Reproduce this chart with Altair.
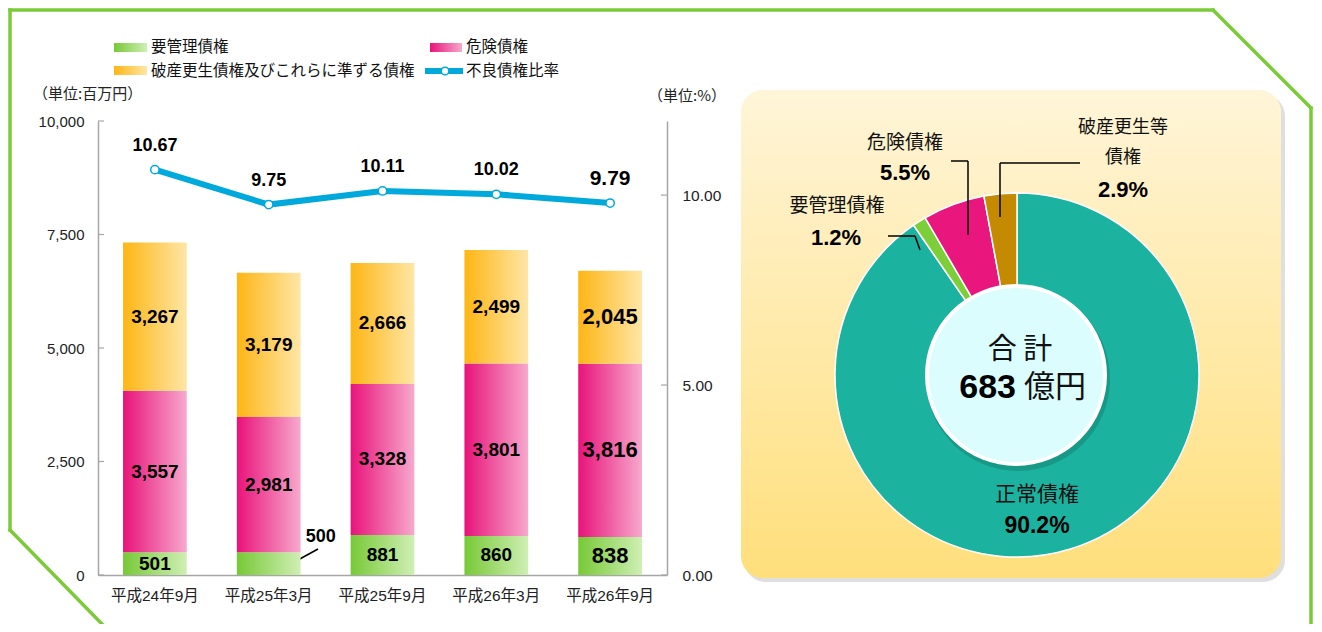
import altair as alt
import pandas as pd

# ---------------- data ----------------
categories = ["平成24年9月", "平成25年3月", "平成25年9月", "平成26年3月", "平成26年9月"]
youkanri = [501, 500, 881, 860, 838]
kiken = [3557, 2981, 3328, 3801, 3816]
hasan = [3267, 3179, 2666, 2499, 2045]
furyo_ratio = [10.67, 9.75, 10.11, 10.02, 9.79]

legend_names = ["要管理債権", "危険債権", "破産更生債権及びこれらに準ずる債権", "不良債権比率"]
left_ticks = [0, 2500, 5000, 7500, 10000]
right_ticks = [0, 5, 10]
unit_left = "（単位:百万円）"
unit_right = "（単位:%）"

pie_names = ["正常債権", "要管理債権", "危険債権", "破産更生等債権"]
pie_share = [90.2, 1.2, 5.5, 2.9]
total_label = "合 計"
total_value = "683"
total_unit = "億円"

# ---------------- styling ----------------
JP = "Noto Sans CJK JP"
NUM = "Liberation Sans"
MIX = "Liberation Sans, Noto Sans CJK JP"
AX = "#A6A6A6"
BLUE = "#00A9DB"
FRAME = "#7BCB39"

W, H = 569, 454
OX, OY = 98, 121  # screen position of plot origin


def X(sx):
    return sx - OX


def Y(sy):
    return sy - OY


def hgrad(c0, c1):
    return alt.Gradient(gradient="linear",
                        stops=[alt.GradientStop(color=c0, offset=0),
                               alt.GradientStop(color=c1, offset=1)],
                        x1=0, x2=1, y1=0, y2=0)


def vgrad(c0, c1):
    return alt.Gradient(gradient="linear",
                        stops=[alt.GradientStop(color=c0, offset=0),
                               alt.GradientStop(color=c1, offset=1)],
                        x1=0, x2=0, y1=0, y2=1)


one = pd.DataFrame({"d": [0]})


def seg(x1, y1, x2, y2, color="black", w=1.5, cap="butt"):
    return alt.Chart(one).mark_rule(color=color, strokeWidth=w, strokeCap=cap).encode(
        x=alt.value(X(x1)), y=alt.value(Y(y1)), x2=alt.value(X(x2)), y2=alt.value(Y(y2)))


def box(x1, y1, x2, y2, fill, radius=0, opacity=1.0):
    return alt.Chart(one).mark_rect(fill=fill, cornerRadius=radius, opacity=opacity).encode(
        x=alt.value(X(x1)), y=alt.value(Y(y1)), x2=alt.value(X(x2)), y2=alt.value(Y(y2)))


def txt(s, x, y, size, font=JP, weight="normal", align="center", color="#111"):
    return alt.Chart(one).mark_text(text=s, font=font, fontSize=size, fontWeight=weight,
                                    align=align, baseline="middle", color=color).encode(
        x=alt.value(X(x)), y=alt.value(Y(y)))


# ---------------- bar layer (left axis) ----------------
bars = pd.DataFrame({"cat": categories, "g": youkanri, "k": kiken, "h": hasan})
bars["g0"] = 0
bars["g1"] = bars["g"]
bars["k1"] = bars["g1"] + bars["k"]
bars["h1"] = bars["k1"] + bars["h"]
bars["gm"] = (bars["g0"] + bars["g1"]) / 2
bars["km"] = (bars["g1"] + bars["k1"]) / 2
bars["hm"] = (bars["k1"] + bars["h1"]) / 2

xenc = alt.X("cat:N", sort=categories,
             scale=alt.Scale(paddingInner=0.44, paddingOuter=0.22),
             axis=alt.Axis(labelFont=MIX, labelFontSize=15.5, labelColor="#222", labelAngle=0,
                           domainColor=AX, domainWidth=1.5, ticks=False, labelPadding=13,
                           grid=False, title=None),
             title=None)

yscale = alt.Scale(domain=[0, 10000], nice=False)
laxis = alt.Axis(orient="left", values=left_ticks, format=",.0f", labelFont=NUM, labelFontSize=15,
                 labelColor="#222", domainColor=AX, domainWidth=1.5, ticks=False,
                 labelPadding=14, grid=False, title=None)


def YL(f):
    return alt.Y(f"{f}:Q", scale=yscale, axis=laxis, title=None)


big = f"datum.cat == '{categories[-1]}'"
base = alt.Chart(bars)

bar_g = base.mark_bar(fill=hgrad("#77C936", "#CFEFB4")).encode(x=xenc, y=YL("g0"), y2="g1")
bar_k = base.mark_bar(fill=hgrad("#E8137A", "#F7A9CD")).encode(x=xenc, y=YL("g1"), y2="k1")
bar_h = base.mark_bar(fill=hgrad("#FDB614", "#FFE6A6")).encode(x=xenc, y=YL("k1"), y2="h1")


def seg_label(mid, val, data=base):
    return data.mark_text(font=NUM, fontWeight="bold", color="black", baseline="middle").encode(
        x=xenc, y=YL(mid), text=alt.Text(f"{val}:Q", format=","),
        size=alt.condition(big, alt.value(22), alt.value(19)))


lab_g = seg_label("gm", "g", base.transform_filter(f"datum.cat != '{categories[1]}'"))
lab_g_out = base.transform_filter(f"datum.cat == '{categories[1]}'").mark_text(
    font=NUM, fontWeight="bold", fontSize=18, color="black", dx=52, dy=-27, baseline="middle").encode(
    x=xenc, y=YL("gm"), text=alt.Text("g:Q", format=","))
lab_k = seg_label("km", "k")
lab_h = seg_label("hm", "h")

lt = pd.DataFrame({"v": left_ticks})
ticks_l = alt.Chart(lt).mark_rule(color=AX, strokeWidth=1.2).encode(
    y=YL("v"), x=alt.value(0), x2=alt.value(6))

left = alt.layer(bar_g, bar_k, bar_h, lab_g, lab_g_out, lab_k, lab_h, ticks_l)

# ---------------- line layer (right axis) ----------------
line_df = pd.DataFrame({"cat": categories, "r": furyo_ratio})
rscale = alt.Scale(domain=[0, 11.95], nice=False)
raxis = alt.Axis(orient="right", values=right_ticks, format=".2f", labelFont=NUM, labelFontSize=15.5,
                 labelColor="#222", domainColor=AX, domainWidth=1.5, ticks=False,
                 labelPadding=15, grid=False, title=None)


def YR(f):
    return alt.Y(f"{f}:Q", scale=rscale, axis=raxis, title=None)


lbase = alt.Chart(line_df)
line = lbase.mark_line(color=BLUE, strokeWidth=6).encode(x=xenc, y=YR("r"))
pts = lbase.mark_point(shape="circle", filled=True, fill="white", stroke=BLUE, strokeWidth=1.5,
                       size=70, opacity=1).encode(x=xenc, y=YR("r"))
plabs = lbase.mark_text(font=NUM, fontWeight="bold", color="black", dy=-24, baseline="middle").encode(
    x=xenc, y=YR("r"), text=alt.Text("r:Q", format=".2f"),
    size=alt.condition(big, alt.value(21), alt.value(18)))
rt = pd.DataFrame({"v": right_ticks})
ticks_r = alt.Chart(rt).mark_rule(color=AX, strokeWidth=1.2).encode(
    y=YR("v"), x=alt.value(W - 6), x2=alt.value(W))

right = alt.layer(line, pts, plabs, ticks_r)

# ---------------- decorations / frame ----------------
frame = [
    seg(10, 10, 1213, 10, FRAME, 3.5, "square"),
    seg(10, 10, 10, 530, FRAME, 3.5, "square"),
    seg(10, 530, 102, 624, FRAME, 3.5, "square"),
    seg(1213, 10, 1311, 108, FRAME, 3.5, "square"),
    seg(1311, 108, 1311, 624, FRAME, 3.5, "square"),
]

panel = [
    box(744, 94, 1285, 582, "#C4C4C4", 22, 0.55),
    box(741, 90, 1281, 578, vgrad("#FFF5D8", "#FFDF7C"), 22),
]

# ---------------- pie ----------------
pie = pd.DataFrame({"name": pie_names, "v": pie_share})
CX, CY = 1017, 375
arc = alt.Chart(pie).transform_window(idx="row_number()").mark_arc(
    outerRadius=182, innerRadius=82, stroke="white", strokeWidth=1.5).encode(
    theta=alt.Theta("v:Q", stack=True),
    color=alt.Color("name:N", scale=alt.Scale(domain=pie_names,
                                                range=["#1BB39F", "#7DCF3A", "#E8167D", "#C48A02"]),
                    legend=None),
    order=alt.Order("idx:Q"),
    x=alt.value(X(CX)), y=alt.value(Y(CY)))

circ_shadow = alt.Chart(one).mark_arc(theta=0, theta2=6.2832, outerRadius=92, innerRadius=0,
                                      fill="#167F70", opacity=0.5).encode(
    x=alt.value(X(CX + 1)), y=alt.value(Y(CY + 4)))
circ = alt.Chart(one).mark_arc(theta=0, theta2=6.2832, outerRadius=89, innerRadius=0,
                               fill="#DCFDFD", stroke="white", strokeWidth=4).encode(
    x=alt.value(X(CX - 1)), y=alt.value(Y(CY)))

pct = [f"{v}%" for v in pie_share]
pie_text = [
    txt(total_label, 1020, 350, 29),
    txt(total_value, 1016, 388, 34, NUM, "bold", "right", "black"),
    txt(total_unit, 1024, 388, 31, JP, "normal", "left"),
    txt(pie_names[0], 1037, 495, 21),
    txt(pct[0], 1037, 526, 23, NUM, "bold", "center", "black"),
    txt(pie_names[2], 905, 143, 19),
    txt(pct[2], 905, 173, 22, NUM, "bold", "center", "black"),
    txt(pie_names[1], 837, 206, 19),
    txt(pct[1], 836, 238, 22, NUM, "bold", "center", "black"),
    txt(pie_names[3][:5], 1123, 128, 18),
    txt(pie_names[3][5:], 1123, 158, 18),
    txt(pct[3], 1123, 190, 22, NUM, "bold", "center", "black"),
]
leaders = [
    seg(951, 161, 968, 161), seg(968, 161, 968, 235),
    seg(1080, 163, 1000, 163), seg(1000, 163, 1000, 217),
    seg(888, 236, 915, 236), seg(915, 236, 920, 250),
    seg(287, 566, 318, 549, "black", 1.5),
]

# ---------------- legend & units ----------------
legend = [
    box(114, 43, 147, 52, hgrad("#77C936", "#CFEFB4")),
    txt(legend_names[0], 151, 47, 15.5, JP, "normal", "left"),
    box(430, 43, 462, 52, hgrad("#E8137A", "#F7A9CD")),
    txt(legend_names[1], 466, 47, 15.5, JP, "normal", "left"),
    box(114, 66, 147, 75, hgrad("#FDB614", "#FFE6A6")),
    txt(legend_names[2], 151, 71, 15.5, JP, "normal", "left"),
    seg(425, 71, 463, 71, BLUE, 6),
    alt.Chart(one).mark_point(shape="circle", filled=True, fill="white", stroke=BLUE,
                              strokeWidth=1.5, size=60, opacity=1).encode(
        x=alt.value(X(445)), y=alt.value(Y(71))),
    txt(legend_names[3], 466, 71, 15.5, JP, "normal", "left"),
    txt(unit_left, 33, 94, 15, JP, "normal", "left", "#222"),
    txt(unit_right, 648, 96, 15, JP, "normal", "left", "#222"),
]

chart = alt.layer(
    *frame, *panel, arc, circ_shadow, circ, *pie_text, *leaders,
    left, right, *legend
).resolve_scale(y="independent").properties(
    width=W, height=H,
    autosize=alt.AutoSizeParams(type="none"),
    padding={"left": OX - 8, "top": OY - 8, "right": 1306 - (OX - 8) - W, "bottom": 616 - (OY - 8) - H},
).configure_view(stroke=None)

chart.save("out.html", embed_options={"renderer": "svg", "actions": False})
